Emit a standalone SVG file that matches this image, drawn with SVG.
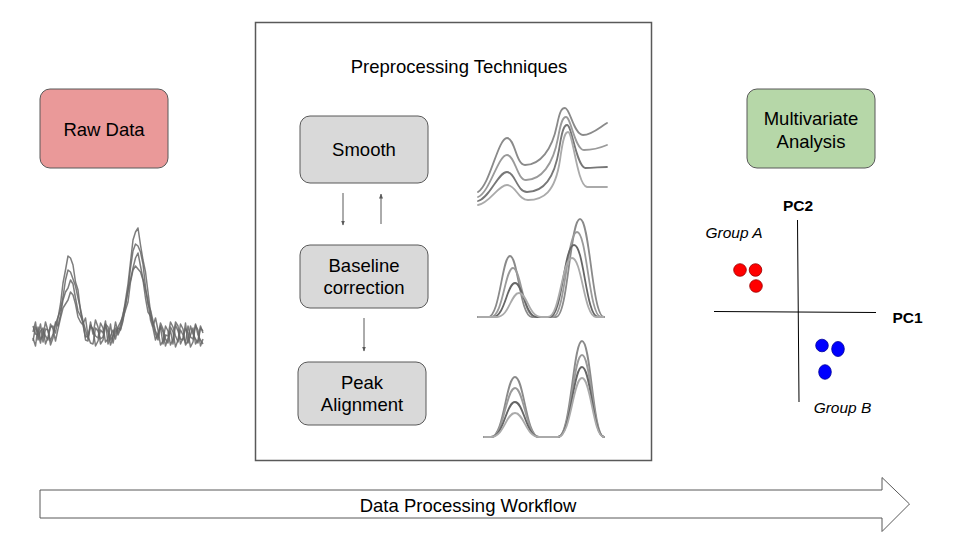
<svg xmlns="http://www.w3.org/2000/svg" width="960" height="540" viewBox="0 0 960 540">
<style>
.node{stroke:#595959;stroke-width:1}
.t{font-family:"Liberation Sans",Arial,sans-serif;font-size:18.5px;fill:#000;text-anchor:middle}
.lbl{font-family:"Liberation Sans",Arial,sans-serif;font-size:15.5px;fill:#000;text-anchor:middle}
.b{font-weight:bold}
.i{font-style:italic}
.conn{stroke:#595959;stroke-width:1;fill:none}
.raw{fill:none;stroke:#666;stroke-width:1.5;stroke-linejoin:round;opacity:0.85}
.sp{fill:none;stroke-width:1.8;stroke-linecap:round}
.axis{stroke:#000;stroke-width:1;fill:none}
</style>
<defs>
<marker id="ah" viewBox="0 0 10 10" refX="9" refY="5" markerWidth="5" markerHeight="5" orient="auto">
<path d="M0,1 L10,5 L0,9 z" fill="#595959"/>
</marker>
</defs>
<rect width="960" height="540" fill="#fff"/>

<g id="workflow-arrow">
<path d="M40,490 L882,490 L882,477.5 L909.5,504 L882,531.5 L882,518 L40,518 Z" fill="#fff" stroke="#595959" stroke-width="1"/>
<text class="t" x="468" y="512">Data Processing Workflow</text>
</g>

<g id="preprocessing-box">
<rect x="255.5" y="22.5" width="396" height="438" fill="#fff" stroke="#595959" stroke-width="1.5"/>
<text class="t" x="459" y="73">Preprocessing Techniques</text>
</g>

<g id="raw-data">
<rect class="node" x="40" y="89" width="128" height="79" rx="10" fill="#ea9999"/>
<text class="t" x="104" y="136">Raw Data</text>
</g>

<g id="multivariate-analysis">
<rect class="node" x="747" y="89" width="128" height="79" rx="10" fill="#b6d7a8"/>
<text class="t" x="811" y="125">Multivariate</text>
<text class="t" x="811" y="148">Analysis</text>
</g>

<g id="smooth">
<rect class="node" x="300" y="116" width="128" height="67" rx="10" fill="#d9d9d9"/>
<text class="t" x="364" y="156">Smooth</text>
</g>

<g id="baseline-correction">
<rect class="node" x="300" y="245" width="128" height="63" rx="10" fill="#d9d9d9"/>
<text class="t" x="364" y="272">Baseline</text>
<text class="t" x="364" y="294">correction</text>
</g>

<g id="peak-alignment">
<rect class="node" x="298" y="362" width="128" height="63" rx="10" fill="#d9d9d9"/>
<text class="t" x="362" y="389">Peak</text>
<text class="t" x="362" y="411">Alignment</text>
</g>

<g id="connectors">
<line class="conn" x1="343" y1="193" x2="343" y2="225" marker-end="url(#ah)"/>
<line class="conn" x1="381" y1="224" x2="381" y2="194" marker-end="url(#ah)"/>
<line class="conn" x1="364" y1="318" x2="364" y2="351" marker-end="url(#ah)"/>
</g>

<g id="raw-spectra">
<polyline class="raw" points="33,332 35.5,322 38,340 40.5,331 43,328 45.5,344 48,337 50.5,327 53,326 55.5,333 58,318 60.5,304 63,283 65.5,270 68,256 70.5,258 73,265 75.5,282 78,290 80.5,311 83,324 85.5,318 88,336 90.5,326 93,329 95.5,346 98,341 100.5,330 103,333 105.5,321 108,344 110.5,336 113,330 115.5,339 118,327 120.5,322 123,316 125.5,300 128,284 130.5,262 133,240 135.5,232 138,228 140.5,245 143,260 145.5,272 148,292 150.5,312 153,326 155.5,318 158,330 160.5,345 163,341 165.5,326 168,331 170.5,345 173,339 175.5,322 178,326 180.5,344 183,338 185.5,329 188,333 190.5,347 193,342 195.5,325 198,330 200.5,346 203,339"/>
<polyline class="raw" points="33,338 35.5,346 38,327 40.5,339 43,336 45.5,322 48,331 50.5,341 53,334 55.5,324 58,317 60.5,310 63,297 65.5,280 68,270 70.5,272 73,279 75.5,286 78,298 80.5,309 83,321 85.5,330 88,339 90.5,322 93,334 95.5,320 98,327 100.5,344 103,340 105.5,326 108,332 110.5,345 113,337 115.5,322 118,333 120.5,325 123,314 125.5,304 128,291 130.5,268 133,251 135.5,244 138,246 140.5,252 143,264 145.5,287 148,304 150.5,310 153,321 155.5,331 158,337 160.5,323 163,329 165.5,339 168,343 170.5,327 173,332 175.5,347 178,340 180.5,324 183,329 185.5,345 188,341 190.5,326 193,334 195.5,339 198,343 200.5,328 203,331"/>
<polyline class="raw" points="33,326 35.5,334 38,335 40.5,324 43,342 45.5,329 48,330 50.5,345 53,338 55.5,322 58,326 60.5,315 63,300 65.5,292 68,288 70.5,280 73,284 75.5,298 78,311 80.5,316 83,322 85.5,340 88,341 90.5,325 93,330 95.5,336 98,338 100.5,323 103,328 105.5,342 108,339 110.5,324 113,343 115.5,332 118,328 120.5,330 123,321 125.5,306 128,290 130.5,280 133,268 135.5,258 138,253 140.5,266 143,279 145.5,290 148,301 150.5,320 153,328 155.5,340 158,333 160.5,327 163,344 165.5,335 168,336 170.5,322 173,327 175.5,336 178,342 180.5,330 183,335 185.5,343 188,326 190.5,337 193,339 195.5,324 198,335 200.5,340 203,344"/>
<polyline class="raw" points="33,341 35.5,327 38,333 40.5,343 43,330 45.5,336 48,340 50.5,324 53,329 55.5,341 58,329 60.5,318 63,308 65.5,304 68,300 70.5,292 73,295 75.5,304 78,317 80.5,322 83,325 85.5,337 88,336 90.5,343 93,344 95.5,328 98,331 100.5,339 103,337 105.5,324 108,327 110.5,340 113,336 115.5,328 118,335 120.5,329 123,318 125.5,310 128,302 130.5,282 133,270 135.5,266 138,269 140.5,272 143,280 145.5,298 148,312 150.5,316 153,324 155.5,334 158,340 160.5,326 163,332 165.5,346 168,338 170.5,331 173,344 175.5,325 178,331 180.5,339 183,340 185.5,323 188,343 190.5,335 193,328 195.5,344 198,340 200.5,326 203,333"/>
</g>

<g id="smoothed-spectra">
<path class="sp" stroke="#8a8a8a" d="M478,192 C490,185 498,138 507,138 C515,138 516,165 525,165 C540,165 552,150 557,125 C560,110 562,108 565,108 C570,108 574,135 583,135 C592,135 600,127 607,123"/>
<path class="sp" stroke="#9a9a9a" d="M478,197 C490,192 498,155 507,155 C515,155 517,180 526,180 C541,180 553,165 558,138 C561,121 563,117 566,117 C571,117 575,150 584,150 C593,150 600,148 607,145"/>
<path class="sp" stroke="#777" d="M478,201 C490,198 498,172 507,172 C515,172 517,192 527,192 C542,192 554,180 559,150 C562,130 564,125 567,125 C572,125 576,165 585,168 C594,168 600,167 607,167"/>
<path class="sp" stroke="#aaa" d="M478,205 C490,203 498,185 507,185 C516,185 518,200 528,200 C543,200 555,193 560,160 C563,138 565,132 568,132 C573,132 577,185 587,187 C595,187 600,187 607,187"/>
</g>

<g id="baseline-spectra">
<path class="sp" stroke="#8a8a8a" d="M478,317 L488,317 C500,317 502,256 510,256 C518,256 520,317 532,317 L556,317 C568,317 570,219 580,219 C590,219 592,317 604,317"/>
<path class="sp" stroke="#9a9a9a" d="M478,317 L491,317 C503,317 505,268 513,268 C521,268 523,317 535,317 L553,317 C565,317 567,232 577,232 C587,232 589,317 601,317 L604,317"/>
<path class="sp" stroke="#666" d="M478,317 L493,317 C505,317 507,283 515,283 C523,283 525,317 537,317 L550,317 C562,317 564,245 574,245 C584,245 586,317 598,317 L604,317"/>
<path class="sp" stroke="#aaa" d="M478,317 L497,317 C509,317 511,293 519,293 C527,293 529,317 541,317 L548,317 C560,317 562,258 572,258 C582,258 584,317 596,317 L604,317"/>
</g>

<g id="aligned-spectra">
<path class="sp" stroke="#8a8a8a" d="M484,437 L491,437 C504,437 506,377 515,377 C524,377 526,437 539,437 L558,437 C571,437 573,341 582,341 C591,341 593,437 604,437"/>
<path class="sp" stroke="#9a9a9a" d="M484,437 L491,437 C504,437 506,388 515,388 C524,388 526,437 539,437 L558,437 C571,437 573,355 582,355 C591,355 593,437 604,437"/>
<path class="sp" stroke="#666" d="M484,437 L491,437 C504,437 506,402 515,402 C524,402 526,437 539,437 L558,437 C571,437 573,367 582,367 C591,367 593,437 604,437"/>
<path class="sp" stroke="#aaa" d="M484,437 L491,437 C504,437 506,413 515,413 C524,413 526,437 539,437 L558,437 C571,437 573,378 582,378 C591,378 593,437 604,437"/>
</g>

<g id="pca-plot">
<line class="axis" x1="797.5" y1="220" x2="799" y2="402"/>
<line class="axis" x1="714" y1="311.5" x2="876" y2="312.5"/>
<text class="lbl b" x="798" y="211">PC2</text>
<text class="lbl b" x="907.5" y="323">PC1</text>
<text class="lbl i" x="734" y="238">Group A</text>
<text class="lbl i" x="842.5" y="413">Group B</text>
<g fill="#ff0000" stroke="#990000" stroke-width="0.8">
<circle cx="740" cy="270" r="6.3"/>
<circle cx="755.5" cy="270" r="6.3"/>
<circle cx="756" cy="286" r="6.3"/>
</g>
<g fill="#0000ff" stroke="#000099" stroke-width="0.8">
<ellipse cx="822" cy="345.5" rx="6.3" ry="6.3"/>
<ellipse cx="838" cy="349" rx="6.3" ry="7.5"/>
<ellipse cx="825" cy="372" rx="6.3" ry="7.3"/>
</g>
</g>
</svg>
